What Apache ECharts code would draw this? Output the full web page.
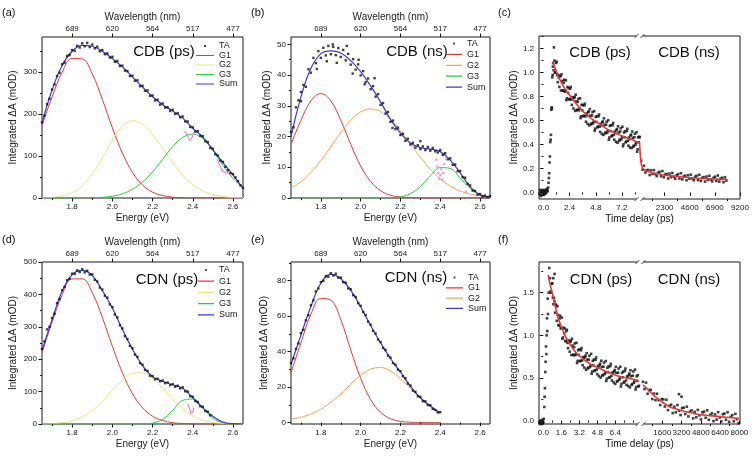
<!DOCTYPE html>
<html><head><meta charset="utf-8">
<script src="https://cdn.jsdelivr.net/npm/echarts@6/dist/echarts.min.js"></script>
<style>html,body{margin:0;padding:0;background:#fff}#c{width:755px;height:458px}</style>
</head><body><div id="c"></div>
<script>
// ================= DATA =================
const eGrid = [1.65,1.70,1.75,1.80,1.85,1.90,1.95,2.00,2.05,2.10,2.15,2.20,2.25,2.30,2.35,2.40,2.45,2.50,2.55,2.60,2.65];
const taE = [1.65,1.6625,1.675,1.6875,1.7,1.7125,1.725,1.7375,1.75,1.7625,1.775,1.7875,1.8,1.8125,1.825,1.8375,1.85,1.8625,1.875,1.8875,1.9,1.9125,1.925,1.9375,1.95,1.9625,1.975,1.9875,2.0,2.0125,2.025,2.0375,2.05,2.0625,2.075,2.0875,2.1,2.1125,2.125,2.1375,2.15,2.1625,2.175,2.1875,2.2,2.2125,2.225,2.2375,2.25,2.2625,2.275,2.2875,2.3,2.3125,2.325,2.3375,2.35,2.3625,2.375,2.3875,2.4,2.4125,2.425,2.4375,2.45,2.4625,2.475,2.4875,2.5,2.5125,2.525,2.5375,2.55,2.5625,2.575,2.5875,2.6,2.6125,2.625,2.6375,2.65];
const wlTicks = [1.8,2.0,2.2,2.4,2.6];

// (a) CDB (ps)
const aTA = [180,196,223,236,258,270,290,298,318,322,338,340,352,350,362,358,368,361,369,359,365,356,360,349,352,342,344,334,336,324,326,314,315,303,302,290,291,279,280,266,267,255,256,243,244,232,234,222,225,215,216,207,210,200,202,192,194,182,182,169,168,158,159,148,147,135,133,119,117,104,101,89,86,74,66,59,57,49,40,30,24];
const aG1 = [173,240,299,332,331,295,235,167,107,61,31,14,6,2,0.7,0,0,0,0,0,0];
const aG2 = [0.5,1.6,5,13,29,56,95,137,171,184,175,151,119,84,54,32,17,8,3.5,1.4,0.5];
const aG3 = [0,0,0,0,0.2,0.6,1.7,4.3,10,21,38,62,92,122,144,152,141,113,78,47,24];
const aSum = [178,257,315,349,363,361,349,332,312,288,264,241,222,207,190,166,145,115,84,55,23];
const aPink = [[2.36,160],[2.372,150],[2.385,137],[2.395,142],[2.405,156],[2.46,null],[2.52,92],[2.533,80],[2.545,66],[2.56,60],[2.575,60],[2.585,63]];

// (b) CDB (ns)
const bTA = [21.5,23.0,29.5,31.8,31.5,36.8,36.2,41.9,40.8,45.6,43.9,47.8,45.6,48.9,46.4,49.5,46.8,49.2,46.5,48.8,45.9,48.2,44.8,46.9,43.4,45.2,41.8,43.5,39.9,41.3,37.7,38.9,35.4,36.4,33.0,33.8,30.3,30.9,27.5,28.0,24.8,25.2,22.4,22.9,20.5,20.9,18.6,19.3,17.4,18.0,16.4,17.2,15.9,16.8,15.6,16.6,15.4,16.3,15.2,14.8,15.6,14.0,14.6,12.6,12.9,10.8,10.9,8.7,8.8,6.8,6.6,4.6,4.1,2.4,2.3,1.1,1.3,0.5,0.8,0.3,0.6];
const bTAextra = [[1.70,34.5],[1.78,42.0],[1.83,44.5],[1.86,50.0],[1.88,44.0],[1.93,49.5],[1.96,40.5],[1.99,45.0],[2.02,37.0],[2.07,39.0],[2.16,22.8],[2.30,18.5]];
const bG1 = [17.5,25.3,31.6,34,31.6,25.3,17.5,10.4,5.4,2.4,0.9,0.3,0.1,0,0,0,0,0,0,0,0];
const bG2 = [3.2,5.3,8.3,12.2,16.7,21.2,25.3,28.0,29,28.1,25.6,21.9,17.6,13.3,9.4,6.3,3.9,2.3,1.3,0.7,0.3];
const bG3 = [0,0,0,0,0,0,0,0,0,0,0.07,0.35,1.4,3.7,7.2,9.9,9.6,6.5,3.1,1.1,0.25];
const bSum = [20,32.9,42.2,47.0,47.9,47.2,44.7,41.1,36.5,31.3,25.6,21.1,17.9,16.4,15.9,15.1,12.3,8.2,3.7,1.0,0.4];
const bPink = [[2.38,12.5],[2.385,10.2],[2.39,8.1],[2.395,6.2],[2.40,7.4],[2.405,9.3],[2.41,6.0],[2.415,8.2],[2.42,11.0],[2.43,12.8],[2.53,2.0]];

// (d) CDN (ps)
const dTA = [232,255,292,300,327,340,373,386,413,423,444,448,464,463,474,469,478,468,473,461,462,445,440,421,415,396,390,369,361,338,329,305,295,271,262,241,234,214,207,188,183,167,164,149,148,138,140,132,134,126,128,120,123,115,118,110,113,101,100,86,84,71,68,55,53,40,38,27];
const dG1 = [220,314,398,448,448,405,329,240,158,94,50,24,11,4,1.5,0.5,0,0,0,0,0];
const dG2 = [0.4,1.4,4,10,22,41,70,104,136,156,158,141,111,77,47,25,12,5,1.8,0.5,0.1];
const dG3 = [0,0,0,0,0,0,0,0,0,0,0.4,2.9,14,42,73,77,49,18,4,0.6,0];
const dSum = [228,322,410,461,474,458,412,358,292,231,180,146,132,121,110,81,50,24,6,1,0];
const dPink = [[2.375,62],[2.385,46],[2.39,33],[2.395,28],[2.40,36],[2.405,50]];

// (e) CDN (ns)
const eTA = [33.5,36.2,41.5,44.6,50.4,52.3,57.6,60.5,66.1,68.9,73.9,75.6,79.2,79.8,82.6,82.2,84.2,82.9,83.9,81.7,81.7,79.1,78.8,75.6,75.1,71.8,70.8,67.3,65.8,62.3,60.6,56.9,55.2,51.7,50.2,46.8,45.4,42.0,40.9,37.7,36.6,33.5,32.6,29.8,29.0,26.1,25.0,22.0,20.9,18.0,17.3,14.8,14.5,12.1,12.0,9.9,9.8,7.7,7.1,5.7,5.9];
const eG1 = [28,45,61,70,69,58,41,25,13,5.8,2.2,0.7,0.2,0.05,0,0];
const eG2 = [2.0,3.0,4.8,7.5,11.5,16,21.6,26.7,30.1,31,29,24.8,19.4,13.8,9,5.3];
const eSum = [32.9,49.4,65.4,78.5,83.5,81.1,74.6,65.3,54.7,44.9,36.1,28.5,20.4,14.0,9.4,5.5];

// (c) CDB kinetics
const cPsRise = [[-0.38,-0.01],[-0.34,0.02],[-0.30,-0.02],[-0.26,0.01],[-0.22,-0.03],[-0.18,0.0],[-0.14,0.02],[-0.10,-0.02],[-0.06,0.01],[-0.02,-0.01],[0.02,0.02],[0.06,-0.02],[0.10,0.0],[0.14,0.01],[0.18,-0.01],[0.22,0.02],[0.26,0.0],[0.30,0.03],[0.34,0.02],[0.38,0.01],[0.42,0.04],[0.46,0.08],[0.49,0.12],[0.52,0.16],[0.55,0.25],[0.58,0.30],[0.62,0.42],[0.65,0.44],[0.68,0.48],[0.71,0.69],[0.74,0.71],[0.77,0.70],[0.80,0.96],[0.84,0.98],[0.86,1.05],[0.88,1.08],[0.92,1.02],[0.95,1.21]];
const cPsDecayA = [[1.0,1.10],[1.1,1.00],[1.2,1.09],[1.3,0.92],[1.4,0.96],[1.5,0.97],[1.6,0.85],[1.7,0.93],[1.8,0.85],[1.9,0.94],[2.0,0.85],[2.1,0.77],[2.2,0.88],[2.3,0.87],[2.4,0.78],[2.5,0.88],[2.6,0.73],[2.7,0.78],[2.8,0.79],[2.9,0.68],[3.0,0.76],[3.1,0.69],[3.2,0.78],[3.3,0.70],[3.4,0.62],[3.5,0.73],[3.6,0.73],[3.7,0.64],[3.8,0.74],[3.9,0.59],[4.0,0.645],[4.1,0.67],[4.2,0.56],[4.3,0.64],[4.4,0.575],[4.5,0.67],[4.6,0.59],[4.7,0.515],[4.8,0.63],[4.9,0.635],[5.0,0.55],[5.1,0.65],[5.2,0.505],[5.3,0.56],[5.4,0.585],[5.5,0.48],[5.6,0.565],[5.7,0.50],[5.8,0.59],[5.9,0.515],[6.0,0.44],[6.1,0.555],[6.2,0.56],[6.3,0.475],[6.4,0.58],[6.5,0.44],[6.6,0.495],[6.7,0.52],[6.8,0.415],[6.9,0.50],[7.0,0.44],[7.1,0.535],[7.2,0.46],[7.3,0.385],[7.4,0.50],[7.5,0.51],[7.6,0.425],[7.7,0.53],[7.8,0.39],[7.9,0.445],[8.0,0.475],[8.1,0.37],[8.2,0.455],[8.3,0.39],[8.4,0.49],[8.5,0.415],[8.6,0.34],[8.7,0.46],[8.8,0.465]];
const cPsDecayB = [[1.05,1.00],[1.15,1.08],[1.25,0.98],[1.35,0.98],[1.45,0.88],[1.55,0.97],[1.65,0.985],[1.75,0.85],[1.85,0.915],[1.95,0.84],[2.05,0.935],[2.15,0.785],[2.25,0.83],[2.35,0.775],[2.45,0.865],[2.55,0.775],[2.65,0.795],[2.75,0.70],[2.85,0.795],[2.95,0.815],[3.05,0.685],[3.15,0.755],[3.25,0.685],[3.35,0.785],[3.45,0.635],[3.55,0.685],[3.65,0.635],[3.75,0.725],[3.85,0.635],[3.95,0.658],[4.05,0.572],[4.15,0.675],[4.25,0.695],[4.35,0.568],[4.45,0.642],[4.55,0.575],[4.65,0.678],[4.75,0.532],[4.85,0.588],[4.95,0.542],[5.05,0.635],[5.15,0.548],[5.25,0.572],[5.35,0.488],[5.45,0.592],[5.55,0.618],[5.65,0.492],[5.75,0.565],[5.85,0.498],[5.95,0.602],[6.05,0.458],[6.15,0.512],[6.25,0.468],[6.35,0.562],[6.45,0.48],[6.55,0.508],[6.65,0.422],[6.75,0.528],[6.85,0.552],[6.95,0.43],[7.05,0.508],[7.15,0.442],[7.25,0.548],[7.35,0.402],[7.45,0.46],[7.55,0.418],[7.65,0.512],[7.75,0.43],[7.85,0.458],[7.95,0.375],[8.05,0.482],[8.15,0.508],[8.25,0.382],[8.35,0.46],[8.45,0.398],[8.55,0.502],[8.65,0.36],[8.75,0.418]];
const cPsFit = [[0.86,1.09],[1.0,1.05],[1.5,0.94],[2.0,0.86],[2.5,0.80],[3.0,0.74],[3.5,0.69],[4.0,0.645],[4.5,0.61],[5.0,0.58],[5.5,0.55],[6.0,0.52],[6.5,0.50],[7.0,0.48],[7.5,0.46],[8.0,0.445],[8.5,0.425],[8.8,0.415]];
const cNsData = [[0,0.46],[150,0.265],[280,0.19],[410,0.222],[540,0.166],[670,0.184],[800,0.187],[930,0.145],[1060,0.185],[1190,0.154],[1320,0.186],[1450,0.153],[1580,0.136],[1710,0.164],[1840,0.172],[1970,0.135],[2100,0.178],[2230,0.126],[2360,0.149],[2490,0.154],[2620,0.116],[2750,0.157],[2880,0.128],[3010,0.162],[3140,0.13],[3270,0.114],[3400,0.143],[3530,0.152],[3660,0.116],[3790,0.16],[3920,0.109],[4050,0.133],[4180,0.139],[4310,0.101],[4440,0.143],[4570,0.114],[4700,0.148],[4830,0.117],[4960,0.101],[5090,0.13],[5220,0.139],[5350,0.103],[5480,0.147],[5610,0.096],[5740,0.121],[5870,0.127],[6000,0.09],[6130,0.132],[6260,0.104],[6390,0.138],[6520,0.108],[6650,0.092],[6780,0.122],[6910,0.131],[7040,0.096],[7170,0.141],[7300,0.09],[7430,0.115],[7560,0.122],[7690,0.085],[7820,0.127],[7950,0.099]];
const cNsFit = [[0,0.42],[40,0.36],[90,0.29],[150,0.245],[250,0.21],[400,0.192],[700,0.178],[1000,0.168],[1500,0.157],[2000,0.149],[2500,0.142],[3000,0.137],[4000,0.128],[5000,0.12],[6000,0.115],[7000,0.111],[8000,0.109]];

// (f) CDN kinetics
const fPsRise = [[-0.36,-0.02],[-0.32,-0.04],[-0.28,0.0],[-0.24,-0.03],[-0.20,-0.05],[-0.16,-0.01],[-0.12,-0.04],[-0.08,0.01],[-0.04,-0.03],[0.0,-0.02],[0.04,0.02],[0.09,0.16],[0.12,0.28],[0.15,0.38],[0.18,0.57],[0.21,0.69],[0.24,0.87],[0.27,0.78],[0.30,1.0],[0.33,1.2],[0.36,1.05],[0.39,1.43],[0.42,1.25],[0.48,1.5],[0.53,1.79],[0.89,1.67],[1.0,1.72]];
const fPsDecayA = [[0.6,1.67],[0.7,1.50],[0.8,1.61],[0.9,1.365],[1.0,1.40],[1.1,1.36],[1.2,1.17],[1.3,1.24],[1.4,1.115],[1.5,1.23],[1.6,1.085],[1.7,0.96],[1.8,1.09],[1.9,1.08],[2.0,0.93],[2.1,1.065],[2.2,0.85],[2.3,0.92],[2.4,0.925],[2.5,0.77],[2.6,0.88],[2.7,0.77],[2.8,0.905],[2.9,0.78],[3.0,0.675],[3.1,0.825],[3.2,0.835],[3.3,0.70],[3.4,0.85],[3.5,0.65],[3.6,0.73],[3.7,0.745],[3.8,0.595],[3.9,0.715],[4.0,0.62],[4.1,0.76],[4.2,0.645],[4.3,0.55],[4.4,0.70],[4.5,0.715],[4.6,0.59],[4.7,0.74],[4.8,0.545],[4.9,0.625],[5.0,0.65],[5.1,0.505],[5.2,0.63],[5.3,0.535],[5.4,0.68],[5.5,0.56],[5.6,0.465],[5.7,0.62],[5.8,0.635],[5.9,0.51],[6.0,0.665],[6.1,0.47],[6.2,0.55],[6.3,0.575],[6.4,0.43],[6.5,0.56],[6.6,0.465],[6.7,0.61],[6.8,0.495],[6.9,0.40],[7.0,0.56],[7.1,0.575],[7.2,0.455],[7.3,0.61],[7.4,0.42],[7.5,0.505],[7.6,0.535],[7.7,0.39],[7.8,0.52],[7.9,0.428],[8.0,0.576],[8.1,0.46],[8.2,0.365],[8.3,0.52],[8.4,0.532],[8.5,0.408]];
const fPsDecayB = [[0.65,1.515],[0.75,1.605],[0.85,1.44],[0.95,1.44],[1.05,1.265],[1.15,1.355],[1.25,1.34],[1.35,1.12],[1.45,1.198],[1.55,1.082],[1.65,1.208],[1.75,0.975],[1.85,1.025],[1.95,0.935],[2.05,1.048],[2.15,0.912],[2.25,0.94],[2.35,0.808],[2.45,0.938],[2.55,0.96],[2.65,0.77],[2.75,0.862],[2.85,0.768],[2.95,0.912],[3.05,0.70],[3.15,0.77],[3.25,0.698],[3.35,0.825],[3.45,0.705],[3.55,0.745],[3.65,0.622],[3.75,0.76],[3.85,0.79],[3.95,0.612],[4.05,0.715],[4.15,0.628],[4.25,0.782],[4.35,0.575],[4.45,0.648],[4.55,0.582],[4.65,0.715],[4.75,0.598],[4.85,0.64],[4.95,0.522],[5.05,0.668],[5.15,0.702],[5.25,0.528],[5.35,0.632],[5.45,0.545],[5.55,0.698],[5.65,0.492],[5.75,0.568],[5.85,0.502],[5.95,0.638],[6.05,0.522],[6.15,0.565],[6.25,0.448],[6.35,0.592],[6.45,0.63],[6.55,0.458],[6.65,0.562],[6.75,0.478],[6.85,0.632],[6.95,0.43],[7.05,0.508],[7.15,0.445],[7.25,0.582],[7.35,0.47],[7.45,0.518],[7.55,0.405],[7.65,0.552],[7.75,0.59],[7.85,0.419],[7.95,0.527],[8.05,0.443],[8.15,0.598],[8.25,0.392],[8.35,0.466],[8.45,0.40]];
const fPsFit = [[0.44,1.71],[0.6,1.6],[0.89,1.45],[1.1,1.32],[1.33,1.2],[1.7,1.07],[2.07,0.96],[2.5,0.87],[2.96,0.79],[3.4,0.74],[3.85,0.69],[4.4,0.65],[5.04,0.61],[5.7,0.57],[6.5,0.53],[7.2,0.505],[8.0,0.486],[8.44,0.46]];
const fNsData = [[0,0.455],[130,0.37],[260,0.445],[390,0.315],[520,0.358],[650,0.36],[780,0.253],[910,0.317],[1040,0.24],[1170,0.315],[1300,0.24],[1430,0.182],[1560,0.253],[1690,0.249],[1820,0.165],[1950,0.244],[2080,0.123],[2210,0.173],[2340,0.186],[2470,0.088],[2600,0.162],[2730,0.097],[2860,0.182],[2990,0.31],[3000,0.116],[3120,0.065],[3200,0.28],[3250,0.146],[3380,0.151],[3510,0.077],[3640,0.163],[3770,0.049],[3900,0.104],[4030,0.12],[4160,0.026],[4290,0.102],[4420,0.039],[4550,0.125],[4680,0.062],[4810,0.014],[4940,0.097],[5070,0.105],[5200,0.033],[5330,0.121],[5460,0.009],[5590,0.067],[5720,0.086],[5850,-0.006],[5980,0.072],[6110,0.011],[6240,0.099],[6370,0.037],[6500,-0.01],[6630,0.074],[6760,0.082],[6890,0.01],[7020,0.098],[7150,-0.014],[7280,0.044],[7410,0.063],[7540,-0.009],[7670,0.079],[7800,0.017],[7930,-0.03]];
const fNsFit = [[0,0.415],[300,0.38],[600,0.337],[1000,0.285],[1400,0.24],[1800,0.197],[2260,0.16],[2700,0.138],[3100,0.121],[3500,0.107],[3900,0.094],[4300,0.082],[4750,0.07],[5400,0.06],[6100,0.051],[6800,0.041],[7500,0.031],[7950,0.024]];

// ================= BUILD =================
const FN = '"Liberation Sans",Arial,sans-serif';
const AX = '#1a1a1a', TXT = '#222';
const COL = {red:'#e23b3b', yellow:'#efe27a', orange:'#f2a55a', green:'#2ccc3a', blue:'#3b3bd0', pink:'#e680e6', dot:'#111'};
const TAICON = 'path://M0,0L0.01,0M18,8L18.01,8M8,3L10,3L10,5L8,5Z';
const LINEICON = 'path://M0,0L0.01,0M18,8L18.01,8M0,3.4L18,3.4L18,4.6L0,4.6Z';

const grids = [], xAxis = [], yAxis = [], series = [], legend = [], graphic = [];
function zip(xs, ys){ const o=[]; for(let i=0;i<ys.length;i++){ if(ys[i]!=null) o.push([xs[i], ys[i]]); } return o; }

function addX(gi, min, max, pos, ticks, labels, fmt, len, name, nameGap, margin){
  xAxis.push({type:'value', gridIndex:gi, min:min, max:max, position:pos,
    axisLine:{show:false}, splitLine:{show:false},
    axisTick:{show:!!ticks, length:len||3, customValues:ticks||undefined, lineStyle:{color:AX, width:1}},
    axisLabel:{show:!!labels, customValues:labels||undefined, formatter:fmt, fontSize:8, fontFamily:FN, color:TXT, margin:margin||5, showMinLabel:true, showMaxLabel:true},
    name:name||'', nameLocation:'middle', nameGap:nameGap||0, nameTextStyle:{fontSize:10, fontFamily:FN, color:TXT}});
  return xAxis.length-1;
}
function addY(gi, min, max, ticks, labels, fmt, len, name, nameGap){
  yAxis.push({type:'value', gridIndex:gi, min:min, max:max, position:'left',
    axisLine:{show:false}, splitLine:{show:false},
    axisTick:{show:!!ticks, length:len||3, customValues:ticks||undefined, lineStyle:{color:AX, width:1}},
    axisLabel:{show:!!labels, customValues:labels||undefined, formatter:fmt, fontSize:8, fontFamily:FN, color:TXT, margin:5, showMinLabel:true, showMaxLabel:true},
    name:name||'', nameLocation:'middle', nameGap:nameGap||0, nameTextStyle:{fontSize:10, fontFamily:FN, color:TXT}});
  return yAxis.length-1;
}
function text(str, x, y, size, align){
  graphic.push({type:'text', x:x, y:y, silent:true, style:{text:str, font:size+'px '+FN, fill:'#111', align:align||'center', verticalAlign:'middle'}});
}
const YNAME = 'Integrated \u0394A (mOD)';

function energyPanel(p){
  const gi = grids.length;
  grids.push({left:p.left, top:p.top, width:p.width, height:p.height, show:true, borderColor:AX, borderWidth:1});
  const xi = addX(gi, 1.65, 2.65, 'bottom', wlTicks, wlTicks, v=>v.toFixed(1), 3.5, 'Energy (eV)', 15, 5);
  addX(gi, 1.65, 2.65, 'bottom', [1.7,1.9,2.1,2.3,2.5], null, null, 2);
  addX(gi, 1.65, 2.65, 'top', wlTicks, wlTicks, v=>String(Math.round(1240/v)), 3.5, 'Wavelength (nm)', 15, 4);
  const yi = addY(gi, p.ymin, p.ymax, p.yTicks, p.yTicks, v=>String(v), 3.5, YNAME, p.yGap);
  addY(gi, p.ymin, p.ymax, p.yMinor, null, null, 2);
  const id = p.id;
  const base = {xAxisIndex:xi, yAxisIndex:yi, silent:true, animation:false};
  p.curves.forEach(c=>{
    series.push(Object.assign({type:'line', name:id+':'+c.name, data:zip(eGrid, c.data), smooth:0.4, symbol:'none',
      lineStyle:{color:c.color, width:1}, itemStyle:{color:c.color}, z:2}, base));
  });
  series.push(Object.assign({type:'line', name:id+':Sum', data:zip(eGrid, p.sum), smooth:0.4, symbol:'none',
    lineStyle:{color:COL.blue, width:1.2}, itemStyle:{color:COL.blue}, z:3}, base));
  series.push(Object.assign({type:'scatter', name:id+':TA', data:zip(taE, p.ta).concat(p.taExtra||[]), symbol:'rect', symbolSize:2.4,
    itemStyle:{color:COL.dot}, z:4}, base));
  if (p.pink) {
    if (p.pinkLine) series.push(Object.assign({type:'line', name:id+':pink', data:p.pink, symbol:'none', connectNulls:false, lineStyle:{color:COL.pink, width:1.2}, z:5}, base));
    else series.push(Object.assign({type:'scatter', name:id+':pink', data:p.pink, symbol:'rect', symbolSize:2.2, itemStyle:{color:COL.pink}, z:5}, base));
  }
  const ld = [{name:id+':TA', icon:TAICON}].concat(p.curves.map(c=>({name:id+':'+c.name, icon:LINEICON}))).concat([{name:id+':Sum', icon:LINEICON}]);
  legend.push({left:p.lg[0], top:p.lg[1], orient:'vertical', padding:0, itemWidth:p.lg[2], itemHeight:8, itemGap:p.lg[3], symbolKeepAspect:false,
    selectedMode:false, formatter:n=>n.split(':')[1], textStyle:{fontSize:9, fontFamily:FN, color:TXT, lineHeight:9}, data:ld});
  text(p.title, p.titlePos[0], p.titlePos[1], 15);
}

function timePanel(p){
  const gf = grids.length;
  grids.push({left:p.left, top:p.top, width:p.width, height:p.height, show:true, borderColor:AX, borderWidth:1});
  xAxis.push({type:'value', gridIndex:gf, show:false, min:0, max:1});
  yAxis.push({type:'value', gridIndex:gf, show:false, min:0, max:1});
  const gl = grids.length; grids.push({left:p.left, top:p.top, width:p.split-p.left, height:p.height});
  const gr = grids.length; grids.push({left:p.split, top:p.top, width:p.left+p.width-p.split, height:p.height});
  const xl = addX(gl, p.lx[0], p.lx[1], 'bottom', p.lTicks, p.lTicks, v=>v.toFixed(1), 3.5, '', 0, 5);
  addX(gl, p.lx[0], p.lx[1], 'bottom', p.lMinor, null, null, 2);
  const xr = addX(gr, p.rx[0], p.rx[1], 'bottom', p.rTicks, p.rTicks, v=>String(v), 3.5, '', 0, 5);
  addX(gr, p.rx[0], p.rx[1], 'bottom', p.rMinor, null, null, 2);
  const yl = addY(gl, p.y[0], p.y[1], p.yTicks, p.yTicks, v=>v.toFixed(1), 3.5, YNAME, p.yGap);
  addY(gl, p.y[0], p.y[1], p.yMinor, null, null, 2);
  yAxis.push({type:'value', gridIndex:gr, show:false, min:p.y[0], max:p.y[1]});
  const yr = yAxis.length-1;
  const common = {silent:true, animation:false};
  series.push(Object.assign({type:'scatter', data:p.psData, xAxisIndex:xl, yAxisIndex:yl, symbol:'rect', symbolSize:2.6, itemStyle:{color:COL.dot}, z:3}, common));
  series.push(Object.assign({type:'line', data:p.psFit, xAxisIndex:xl, yAxisIndex:yl, smooth:0.4, symbol:'none', lineStyle:{color:COL.red, width:1.6}, z:4}, common));
  series.push(Object.assign({type:'scatter', data:p.nsData, xAxisIndex:xr, yAxisIndex:yr, symbol:'rect', symbolSize:2.6, itemStyle:{color:COL.dot}, z:3}, common));
  series.push(Object.assign({type:'line', data:p.nsFit, xAxisIndex:xr, yAxisIndex:yr, smooth:0.4, symbol:'none', lineStyle:{color:COL.red, width:1.6}, z:4}, common));
  text(p.t1, p.t1Pos[0], p.t1Pos[1], 15);
  text(p.t2, p.t2Pos[0], p.t2Pos[1], 15);
  text('Time delay (ps)', p.left + p.width/2, p.top + p.height + 20, 10);
  [p.top, p.top + p.height].forEach(yy=>{
    graphic.push({type:'rect', silent:true, shape:{x:p.split-3, y:yy-2, width:6, height:4}, style:{fill:'#fff'}, z:50});
    graphic.push({type:'line', silent:true, shape:{x1:p.split-5, y1:yy+2, x2:p.split-1, y2:yy-2}, style:{stroke:AX, lineWidth:0.8}, z:51});
    graphic.push({type:'line', silent:true, shape:{x1:p.split+1, y1:yy+2, x2:p.split+5, y2:yy-2}, style:{stroke:AX, lineWidth:0.8}, z:51});
  });
}

energyPanel({id:'a', left:42, top:37, width:201, height:161, ymin:0, ymax:383, yTicks:[0,100,200,300], yMinor:[50,150,250,350], yGap:24,
  ta:aTA, sum:aSum, curves:[{name:'G1', data:aG1, color:COL.red},{name:'G2', data:aG2, color:COL.yellow},{name:'G3', data:aG3, color:COL.green}],
  pink:aPink, pinkLine:true, lg:[196,41.5,18,0.5], title:'CDB (ps)', titlePos:[164,52]});
energyPanel({id:'b', left:291, top:37, width:199, height:161, ymin:0, ymax:52.4, yTicks:[0,10,20,30,40,50], yMinor:[5,15,25,35,45], yGap:19,
  ta:bTA, taExtra:bTAextra, sum:bSum, curves:[{name:'G1', data:bG1, color:COL.red},{name:'G2', data:bG2, color:COL.orange},{name:'G3', data:bG3, color:COL.green}],
  pink:bPink, pinkLine:false, lg:[446,39,16,1.9], title:'CDB (ns)', titlePos:[417,52]});
energyPanel({id:'d', left:42, top:262, width:201, height:162, ymin:0, ymax:500, yTicks:[0,100,200,300,400,500], yMinor:[50,150,250,350,450], yGap:24,
  ta:dTA, sum:dSum, curves:[{name:'G1', data:dG1, color:COL.red},{name:'G2', data:dG2, color:COL.yellow},{name:'G3', data:dG3, color:COL.green}],
  pink:dPink, pinkLine:true, lg:[198,265.5,16,2.2], title:'CDN (ps)', titlePos:[167,280]});
energyPanel({id:'e', left:291, top:262, width:199, height:162, ymin:-0.8, ymax:90.5, yTicks:[0,20,40,60,80], yMinor:[10,30,50,70,90], yGap:22,
  ta:eTA, sum:eSum, curves:[{name:'G1', data:eG1, color:COL.red},{name:'G2', data:eG2, color:COL.orange}],
  lg:[446,273,17,1.3], title:'CDN (ns)', titlePos:[416,277.5]});

timePanel({left:539, top:36, width:201, height:163, split:639.5, lx:[-0.42,8.82], rx:[0,9200], y:[-0.055,1.305],
  lTicks:[0,2.4,4.8,7.2], lMinor:[1.2,3.6,6.0,8.4], rTicks:[2300,4600,6900,9200], rMinor:[1150,3450,5750,8050],
  yTicks:[0,0.2,0.4,0.6,0.8,1.0,1.2], yMinor:[0.1,0.3,0.5,0.7,0.9,1.1,1.3], yGap:20,
  psData:cPsRise.concat(cPsDecayA, cPsDecayB), psFit:cPsFit, nsData:cNsData, nsFit:cNsFit,
  t1:'CDB (ps)', t1Pos:[600,52.5], t2:'CDB (ns)', t2Pos:[689,52.5]});
timePanel({left:539, top:262, width:201, height:162, split:640.5, lx:[-0.38,8.64], rx:[-200,8050], y:[-0.04,1.86],
  lTicks:[0,1.6,3.2,4.8,6.4], lMinor:[0.8,2.4,4.0,5.6,7.2,8.0], rTicks:[1600,3200,4800,6400,8000], rMinor:[800,2400,4000,5600,7200],
  yTicks:[0,0.5,1.0,1.5], yMinor:[0.25,0.75,1.25,1.75], yGap:20,
  psData:fPsRise.concat(fPsDecayA, fPsDecayB), psFit:fPsFit, nsData:fNsData, nsFit:fNsFit,
  t1:'CDN (ps)', t1Pos:[601,279.5], t2:'CDN (ns)', t2Pos:[689,279.5]});

text('(a)', 2, 13, 11, 'left'); text('(b)', 251, 13, 11, 'left'); text('(c)', 498, 13, 11, 'left');
text('(d)', 2, 240, 11, 'left'); text('(e)', 251, 240, 11, 'left'); text('(f)', 498, 240, 11, 'left');

const chart = echarts.init(document.getElementById('c'), null, {renderer:'canvas'});
chart.setOption({animation:false, backgroundColor:'#fff', grid:grids, xAxis:xAxis, yAxis:yAxis, series:series, legend:legend, graphic:graphic});
</script></body></html>
